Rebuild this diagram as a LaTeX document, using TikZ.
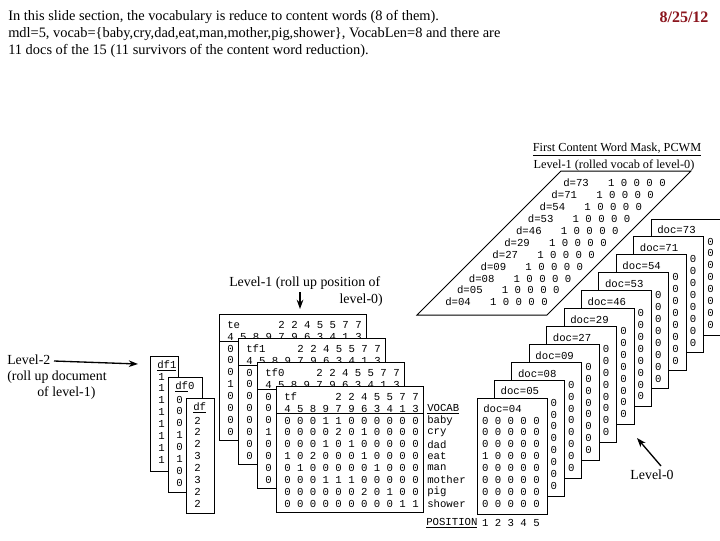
\documentclass[tikz,border=0pt]{standalone}
\usepackage{fontspec}
\setmainfont{Liberation Serif}
\newfontfamily\mono[WordSpace={1,0,0}]{Liberation Mono}
\usetikzlibrary{arrows.meta}
\definecolor{datered}{RGB}{140,22,30}
\begin{document}
\begin{tikzpicture}[x=0.75pt,y=-0.75pt,
  tbox/.style={draw=black, fill=white, line width=0.75pt},
  mt/.style={font=\mono\fontsize{8}{8}\selectfont, inner sep=0pt, anchor=west},
  lab/.style={font=\fontsize{10.4}{12}\selectfont, inner sep=0pt},
  hd/.style={font=\fontsize{10.8}{12}\selectfont, inner sep=0pt, anchor=west},
  arr/.style={-{Stealth[length=7pt,width=5pt]}, line width=1pt}]
\useasboundingbox (0,0) rectangle (720,540);
\fill[white] (0,0) rectangle (720,540);

% header
\node[hd] (h1) at (8,17) {In this slide section, the vocabulary is reduce to content words (8 of them).};
\node[hd] (h2) at (8,34) {mdl=5, vocab=\{baby,cry,dad,eat,man,mother,pig,shower\}, VocabLen=8 and there are};
\node[hd] (h3) at (8,51) {11 docs of the 15 (11 survivors of the content word reduction).};
\node[font=\bfseries\fontsize{12}{14}\selectfont, text=datered, inner sep=0pt] (date) at (684,17) {8/25/12};

% PCWM titles
\node[font=\fontsize{9.2}{11}\selectfont, inner sep=0pt] (pt1) at (617,150) {\underline{First Content Word Mask, PCWM}};
\node[font=\fontsize{9.2}{11}\selectfont, inner sep=0pt] (pt2) at (614,165) {Level-1 (rolled vocab of level-0)};

% parallelogram
\draw[line width=0.75pt] (561,171) -- (691,171) -- (547,315) -- (417,315) -- cycle;
\foreach \dn [count=\i from 0] in {73,71,54,53,46,29,27,09,08,05,04}
  \node[mt] (pc\i) at ({563-11.8*\i},{183+11.9*\i}) {d=\dn\ \ \ 1 0 0 0 0};

% level-0 doc boxes, back to front
\foreach \dn [count=\i from 0] in {73,71,54,53,46,29,27,09,08,05} {
  \pgfmathsetmacro\k{10-\i}
  \pgfmathsetmacro\L{477+17.4*\k}
  \pgfmathsetmacro\T{398-17.9*\k}
  \draw[tbox] (\L,\T) rectangle ++(70,116);
  \node[mt] (doc\dn) at ({\L+6},{\T+11}) {doc=\dn};
  \foreach \j in {0,...,7}
    \node[mt] (doc\dn c\j) at ({\L+56},{\T+22.5+11.9*\j}) {0};
}
\draw[tbox] (477,398) rectangle ++(70,116);
\node[mt] (doc04) at (483,409) {doc=04};
\foreach \r [count=\j from 0] in {{0 0 0 0 0},{0 0 0 0 0},{0 0 0 0 0},{1 0 0 0 0},{0 0 0 0 0},{0 0 0 0 0},{0 0 0 0 0},{0 0 0 0 0}}
  \node[mt] (doc04r\j) at (481.8,{420.5+11.9*\j}) {\r};

% vocab column
\node[mt] (vocab) at (427,409) {\underline{VOCAB}};
\foreach \w [count=\j from 0] in {baby,cry,dad,eat,man,mother,pig,shower}
  \node[mt] (voc\j) at (427,{420.5+11.9*\j}) {\w};
\node[mt] (posl) at (426,523) {\underline{POSITION}};
\node[mt] (posn) at (481.8,523) {1 2 3 4 5};

% level-1 boxes (te, tf1, tf0) back to front
\foreach \nm/\L/\T/\col in {te/219/314/{0,0,0,1,0,0,0,0},tf1/238/338/{0,0,0,0,0,0,0,0},tf0/257/362/{0,0,0,1,0,0,0,0}} {
  \draw[tbox] (\L,\T) rectangle ++(147,126);
  \node[mt] (\nm n) at ({\L+8},{\T+11}) {\nm};
  \node[mt] (\nm t) at ({\L+59.2},{\T+11}) {2 2 4 5 5 7 7};
  \node[mt] (\nm u) at ({\L+8},{\T+23}) {4 5 8 9 7 9 6 3 4 1 3};
  \draw[line width=0.75pt] (\L,{\T+27}) -- ++(147,0);
  \foreach \v [count=\j from 0] in \col
    \node[mt] (\nm c\j) at ({\L+8},{\T+34.5+11.9*\j}) {\v};
}
% tf front box
\draw[tbox] (276,386) rectangle ++(147,126);
\node[mt] (tfn) at (284,397) {tf};
\node[mt] (tft) at (335.2,397) {2 2 4 5 5 7 7};
\node[mt] (tfu) at (284,409) {4 5 8 9 7 9 6 3 4 1 3};
\draw[line width=0.75pt] (276,413) -- ++(147,0);
\foreach \r [count=\j from 0] in {{0 0 0 1 1 0 0 0 0 0 0},{0 0 0 0 2 0 1 0 0 0 0},{0 0 0 1 0 1 0 0 0 0 0},{1 0 2 0 0 0 1 0 0 0 0},{0 1 0 0 0 0 0 1 0 0 0},{0 0 0 1 1 1 0 0 0 0 0},{0 0 0 0 0 0 2 0 1 0 0},{0 0 0 0 0 0 0 0 0 1 1}}
  \node[mt] (tfr\j) at (284,{420.5+11.9*\j}) {\r};

% level-2 df boxes
\draw[tbox] (150,356) rectangle ++(28,115);
\node[mt] (df1n) at (157,366) {\underline{df1}};
\foreach \j in {0,...,7} \node[mt] (df1c\j) at (158,{376.5+11.9*\j}) {1};
\draw[tbox] (168,377) rectangle ++(34,115);
\node[mt] (df0n) at (175,387) {\underline{df}0};
\foreach \v [count=\j from 0] in {0,0,0,1,0,1,0,0} \node[mt] (df0c\j) at (176,{399.5+11.9*\j}) {\v};
\draw[tbox] (186,398) rectangle ++(28,115);
\node[mt] (dfn) at (193,408) {\underline{df}};
\foreach \v [count=\j from 0] in {2,2,2,3,2,3,2,2} \node[mt] (dfc\j) at (194,{420.5+11.9*\j}) {\v};

% labels and arrows
\node[lab, anchor=west] (lv2) at (7,360) {Level-2};
\node[lab, anchor=west] (lv2b) at (7,377) {(roll up document};
\node[lab, anchor=west] (lv2c) at (37,393) {of level-1)};
\coordinate (a2s) at (54,361);
\coordinate (a2e) at (138,364);
\draw[arr] (a2s) -- (a2e);

\node[lab, anchor=west] (lv1) at (229,283) {Level-1 (roll up position of};
\node[lab, anchor=east] (lv1b) at (383,300) {level-0)};
\coordinate (a1s) at (300,292);
\coordinate (a1e) at (300,309);
\draw[arr] (a1s) -- (a1e);

\node[lab] (lv0) at (652,475) {Level-0};
\coordinate (a0s) at (661,466);
\coordinate (a0e) at (637,438);
\draw[arr] (a0s) -- (a0e);
\end{tikzpicture}
\end{document}
